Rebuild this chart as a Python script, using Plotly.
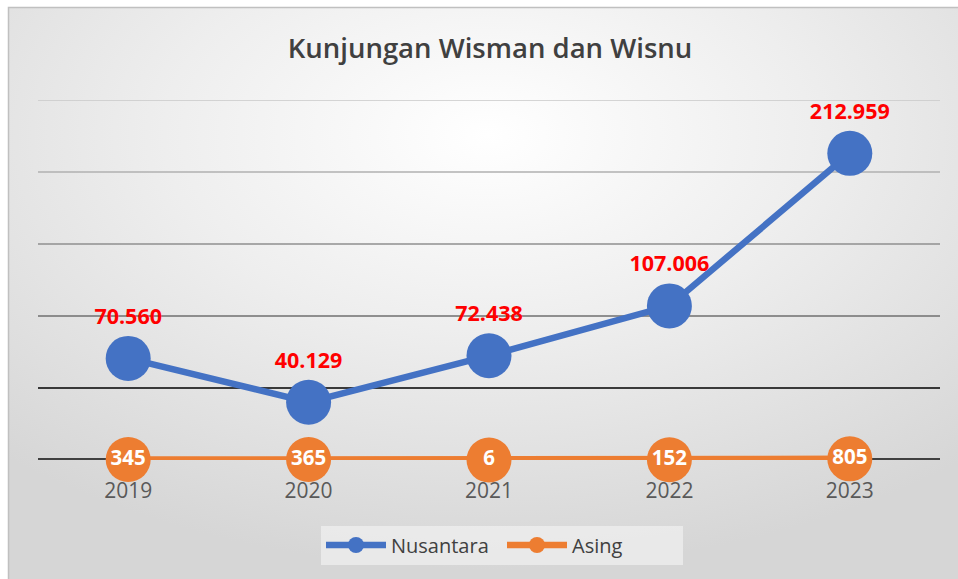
import base64
import plotly.graph_objects as go

years = ["2019", "2020", "2021", "2022", "2023"]
nusantara = [70560, 40129, 72438, 107006, 212959]
asing = [345, 365, 6, 152, 805]
grid_values = [0, 50000, 100000, 150000, 200000, 250000]
grid_colors = ["#404040", "#000000", "#6f6f6f", "#8f8f8f", "#b0b0b0", "#c8c8c8"]
grid_widths = [4, 1.6, 1.6, 1.6, 1.6, 1.6]


def fmt(v):
    return f"{v:,}".replace(",", ".")


W, H = 958, 579
L, R, T, B = 38, 18, 100, 119
PW, PH = W - L - R, H - T - B

svg = f"""<svg xmlns='http://www.w3.org/2000/svg' width='{W}' height='{H}' viewBox='0 0 {W} {H}'>
<defs><radialGradient id='g' cx='0.5' cy='0.22' r='0.75' gradientUnits='objectBoundingBox'>
<stop offset='0' stop-color='#ffffff'/><stop offset='0.45' stop-color='#eeeeee'/><stop offset='1' stop-color='#d6d6d6'/>
</radialGradient></defs>
<rect x='0' y='0' width='{W}' height='{H}' fill='#ffffff'/>
<rect x='8.5' y='7.5' width='{W}' height='{H}' fill='url(#g)' stroke='#c0c0c0' stroke-width='1.5'/>
</svg>"""
bg = "data:image/svg+xml;base64," + base64.b64encode(svg.encode()).decode()

fig = go.Figure()
fig.add_trace(go.Scatter(
    x=years, y=nusantara, name="Nusantara",
    mode="lines+markers+text", cliponaxis=False,
    line=dict(color="#4472C4", width=6.5),
    marker=dict(color="#4472C4", size=45),
    text=[fmt(v) for v in nusantara], textposition="top center",
    textfont=dict(family="Open Sans", size=21.5, color="#FF0000", weight="bold"),
))
fig.add_trace(go.Scatter(
    x=years, y=asing, name="Asing",
    mode="lines+markers+text", cliponaxis=False,
    line=dict(color="#ED7D31", width=6.5),
    marker=dict(color="#ED7D31", size=45),
    text=[fmt(v) for v in asing], textposition="middle center",
    textfont=dict(family="Open Sans", size=20.5, color="#FFFFFF", weight="bold"),
))

shapes = []
for v, c, w in zip(grid_values, grid_colors, grid_widths):
    shapes.append(dict(type="line", xref="paper", yref="y", x0=0, x1=1,
                       y0=v, y1=v, line=dict(color=c, width=w), layer="below"))

fig.update_layout(
    width=W, height=H,
    margin=dict(l=L, r=R, t=T, b=B, autoexpand=False),
    paper_bgcolor="rgba(0,0,0,0)", plot_bgcolor="rgba(0,0,0,0)",
    images=[dict(source=bg, xref="paper", yref="paper", x=-L / PW, y=1 + T / PH,
                 sizex=W / PW, sizey=H / PH,
                 xanchor="left", yanchor="top", sizing="stretch", layer="below")],
    shapes=shapes,
    title=dict(text="Kunjungan Wisman dan Wisnu", xref="container", yref="container",
               x=490 / W, xanchor="center", y=(H - 48) / H, yanchor="middle",
               font=dict(family="Open Sans", size=27.5, color="#404040", weight=600)),
    xaxis=dict(range=[-0.5, 4.5], showgrid=False, zeroline=False, automargin=False,
               showline=False, ticks="", ticklabelstandoff=16,
               tickfont=dict(family="Open Sans", size=21, color="#595959"),
               type="category"),
    yaxis=dict(range=[0, 250000], showgrid=False, automargin=False,
               zeroline=False, showticklabels=False, showline=False),
    showlegend=True,
    legend=dict(orientation="h", xref="container", yref="container",
                x=502 / W, xanchor="center", y=(H - 545) / H, yanchor="middle",
                bgcolor="rgba(245,245,245,0.6)", font=dict(family="Open Sans", size=20, color="#404040"),
                itemwidth=60, entrywidth=106, borderwidth=0),
)

fig.write_html("out.html", config={"displayModeBar": False},
               post_script="document.body.style.margin='0';document.body.style.overflow='hidden';")
